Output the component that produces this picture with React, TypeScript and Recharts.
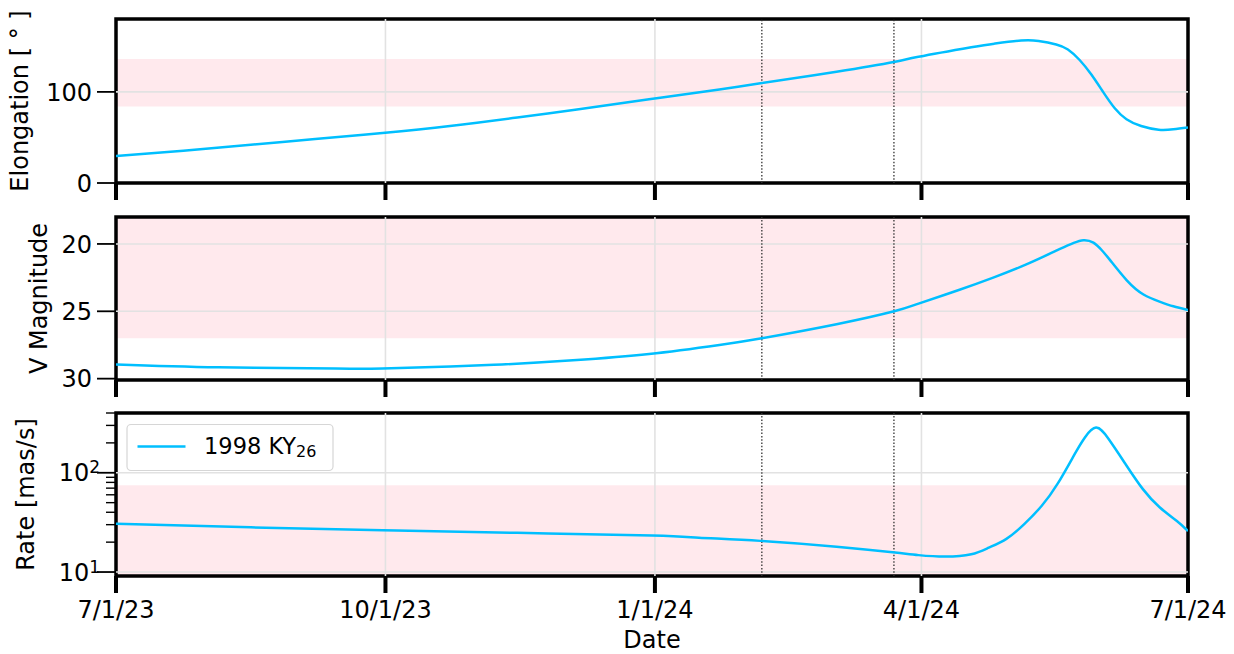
import React from 'react';
import { LineChart, Line, XAxis, YAxis, ReferenceArea, ReferenceLine } from 'recharts';

// ---------- data ----------
// x values are days since 7/1/23
const dateTickDays = [0, 92, 184, 275, 366];
const dateTickLabels = ['7/1/23', '10/1/23', '1/1/24', '4/1/24', '7/1/24'];
const markerDays = [220.5, 265.6];

const seriesName = '1998 KY';
const seriesSub = '26';

const elongDays = [0, 23, 46, 68, 91, 114, 137, 158, 182, 206, 220, 246, 266, 274, 292, 300, 309, 315, 321, 325, 329, 333, 337, 341, 345, 350, 356, 361, 366];
const elongValues = [29.5, 35.5, 42, 48.3, 55, 62.6, 71.8, 80.9, 91.8, 102.7, 109.5, 122, 133, 138.5, 149, 153, 156.3, 155.8, 152, 146.5, 135, 119, 100, 82, 70, 62.5, 58.5, 59, 61];

const vmagDays = [0, 35, 75, 91, 129, 156, 182, 206, 220, 246, 266, 274, 288, 299.5, 311, 322.3, 327, 330.3, 333.7, 336.5, 339.4, 345.1, 350.8, 356.5, 361, 366];
const vmagValues = [28.94, 29.15, 29.25, 29.25, 28.97, 28.64, 28.17, 27.5, 27.02, 25.96, 24.98, 24.43, 23.4, 22.5, 21.5, 20.37, 19.92, 19.72, 19.9, 20.45, 21.2, 22.7, 23.75, 24.3, 24.63, 24.9];

const rateDays = [0, 46, 91, 137, 183, 199, 220, 246, 266, 274, 283, 292, 298, 304, 310, 316, 321.5, 327.3, 330.8, 334.6, 338.9, 344.7, 350.6, 356.4, 362.2, 366];
const rateValues = [30.7, 28.2, 26.3, 24.8, 23.3, 22.2, 20.6, 18.0, 15.7, 14.8, 14.3, 15.1, 17.6, 21.6, 30.2, 46.2, 77.6, 154, 227, 285, 219, 122, 68.4, 44.7, 32.7, 25.9];

const elongDomain = [0, 180];
const elongTicks = [0, 100];
const elongBand = [84, 136];

const vmagDomain = [18, 30.1];
const vmagTicks = [20, 25, 30];
const vmagGrid = [20, 25];
const vmagBand = [18, 27];

const rateDomain = [9.12, 400];
const rateTicks = [10, 20, 30, 40, 50, 60, 70, 80, 90, 100, 200, 300, 400];
const rateMajor = [10, 100];
const rateMajorExp = ['1', '2'];
const rateBand = [9.12, 75];

// ---------- styling ----------
const FONT = '"DejaVu Sans", sans-serif';
const LINE_COLOR = '#00BFFF';
const GRID_COLOR = '#e2e2e2';
const BAND_COLOR = '#FFC0CB';

const toData = (days: number[], values: number[]) => days.map((d, i) => ({ day: d, v: values[i] }));

function makeXTick(showLabel: boolean) {
  return (props: any) => {
    const { x, y, payload } = props;
    const i = dateTickDays.indexOf(payload.value);
    return (
      <g>
        <line x1={x} x2={x} y1={y} y2={y + 17} stroke="#000" strokeWidth={4} />
        {showLabel && (
          <text x={x} y={y + 42} textAnchor="middle" fontSize={24} fontFamily={FONT} fill="#000">
            {dateTickLabels[i]}
          </text>
        )}
      </g>
    );
  };
}

const linearYTick = (props: any) => {
  const { x, y, payload } = props;
  return (
    <g>
      <line x1={x - 19} x2={x} y1={y} y2={y} stroke="#000" strokeWidth={1.8} />
      <text x={x - 24} y={y + 8.7} textAnchor="end" fontSize={24} fontFamily={FONT} fill="#000">
        {payload.value}
      </text>
    </g>
  );
};

const logYTick = (props: any) => {
  const { x, y, payload } = props;
  const mi = rateMajor.indexOf(payload.value);
  if (mi < 0) {
    return <line x1={x - 10} x2={x} y1={y} y2={y} stroke="#000" strokeWidth={1.4} />;
  }
  return (
    <g>
      <line x1={x - 19} x2={x} y1={y} y2={y} stroke="#000" strokeWidth={1.8} />
      <text x={x - 16} y={y + 8.7} textAnchor="end" fontSize={24} fontFamily={FONT} fill="#000">
        10
        <tspan fontSize={17} dy={-8}>
          {rateMajorExp[mi]}
        </tspan>
      </text>
    </g>
  );
};

type PanelProps = {
  top: number;
  height: number;
  marginTop: number;
  xAxisHeight: number;
  data: { day: number; v: number }[];
  domain: number[];
  ticks: number[];
  gridY: number[];
  band: number[];
  log?: boolean;
  reversed?: boolean;
  yTick: (p: any) => any;
  showXLabels: boolean;
};

function Panel(p: PanelProps) {
  return (
    <div style={{ position: 'absolute', left: 0, top: p.top, width: 1234, height: p.height }}>
      <LineChart
        width={1234}
        height={p.height}
        data={p.data}
        margin={{ top: p.marginTop, right: 46, bottom: 0, left: 0 }}
        style={{ overflow: 'visible' }}
      >
        <XAxis
          dataKey="day"
          type="number"
          domain={[dateTickDays[0], dateTickDays[dateTickDays.length - 1]]}
          ticks={dateTickDays}
          interval={0}
          allowDataOverflow
          axisLine={false}
          tickLine={false}
          tickSize={0}
          tickMargin={0}
          height={p.xAxisHeight}
          tick={makeXTick(p.showXLabels)}
        />
        <YAxis
          type="number"
          scale={p.log ? 'log' : 'linear'}
          domain={p.domain}
          ticks={p.ticks}
          interval={0}
          reversed={p.reversed}
          allowDataOverflow
          axisLine={false}
          tickLine={false}
          tickSize={0}
          tickMargin={0}
          width={116}
          tick={p.yTick}
        />
        {dateTickDays.slice(1, -1).map((d) => (
          <ReferenceLine key={'gx' + d} x={d} stroke={GRID_COLOR} strokeWidth={1.6} />
        ))}
        {p.gridY.map((v) => (
          <ReferenceLine key={'gy' + v} y={v} stroke={GRID_COLOR} strokeWidth={1.6} />
        ))}
        <ReferenceArea
          x1={dateTickDays[0]}
          x2={dateTickDays[dateTickDays.length - 1]}
          y1={p.band[0]}
          y2={p.band[1]}
          fill={BAND_COLOR}
          fillOpacity={0.35}
          stroke="none"
          ifOverflow="visible"
        />
        {markerDays.map((d) => (
          <ReferenceLine key={'m' + d} x={d} stroke="#333" strokeWidth={1.3} strokeDasharray="1.5 1.8" />
        ))}
        <Line
          type="natural"
          dataKey="v"
          stroke={LINE_COLOR}
          strokeWidth={2.5}
          dot={false}
          activeDot={false}
          isAnimationActive={false}
        />
        <ReferenceArea
          x1={dateTickDays[0]}
          x2={dateTickDays[dateTickDays.length - 1]}
          y1={p.domain[0]}
          y2={p.domain[1]}
          fill="none"
          fillOpacity={0}
          stroke="#000"
          strokeWidth={3.5}
          ifOverflow="visible"
        />
      </LineChart>
    </div>
  );
}

export default function App() {
  return (
    <div
      style={{
        position: 'absolute',
        left: 0,
        top: 0,
        width: 1234,
        height: 654,
        background: '#fff',
        fontFamily: FONT,
        overflow: 'hidden',
      }}
    >
      <Panel
        top={0}
        height={205}
        marginTop={19}
        xAxisHeight={22}
        data={toData(elongDays, elongValues)}
        domain={elongDomain}
        ticks={elongTicks}
        gridY={[100]}
        band={elongBand}
        yTick={linearYTick}
        showXLabels={false}
      />
      <Panel
        top={205}
        height={200}
        marginTop={12}
        xAxisHeight={25}
        data={toData(vmagDays, vmagValues)}
        domain={vmagDomain}
        ticks={vmagTicks}
        gridY={vmagGrid}
        band={vmagBand}
        reversed
        yTick={linearYTick}
        showXLabels={false}
      />
      <Panel
        top={405}
        height={249}
        marginTop={8}
        xAxisHeight={78}
        data={toData(rateDays, rateValues)}
        domain={rateDomain}
        ticks={rateTicks}
        gridY={rateMajor}
        band={rateBand}
        log
        yTick={logYTick}
        showXLabels
      />
      <svg
        width={1234}
        height={654}
        style={{ position: 'absolute', left: 0, top: 0, pointerEvents: 'none' }}
        fontFamily={FONT}
      >
        <text transform="translate(28,101) rotate(-90)" textAnchor="middle" fontSize={24} fill="#000">
          Elongation [ ° ]
        </text>
        <text transform="translate(46.5,298.5) rotate(-90)" textAnchor="middle" fontSize={24} fill="#000">
          V Magnitude
        </text>
        <text transform="translate(34,494.5) rotate(-90)" textAnchor="middle" fontSize={24} fill="#000">
          Rate [mas/s]
        </text>
        <text x={652} y={648} textAnchor="middle" fontSize={24} fill="#000">
          Date
        </text>
        <g>
          <rect x={127} y={424.5} width={206} height={46} rx={4} fill="#fff" fillOpacity={0.85} stroke="#d6d6d6" strokeWidth={1.2} />
          <line x1={137.5} x2={185.5} y1={446.5} y2={446.5} stroke={LINE_COLOR} strokeWidth={2.5} />
          <text x={204} y={454} fontSize={22.5} fill="#000">
            {seriesName}
            <tspan fontSize={16} dy={3}>
              {seriesSub}
            </tspan>
          </text>
        </g>
      </svg>
    </div>
  );
}
